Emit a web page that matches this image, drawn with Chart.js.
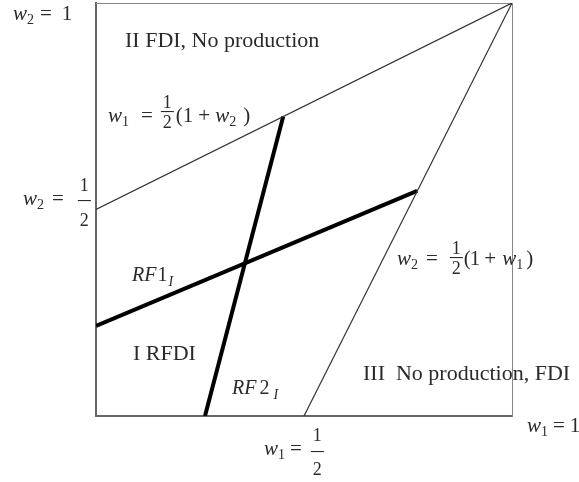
<!DOCTYPE html>
<html>
<head>
<meta charset="utf-8">
<script src="https://cdn.jsdelivr.net/npm/chart.js@4.4.1/dist/chart.umd.min.js"></script>
<style>
  body { margin: 0; background: #fff; }
  canvas { display: block; }
</style>
</head>
<body>
<canvas id="myChart" width="579" height="482"></canvas>
<script>
// boundary lines (w1, w2 in [0,1])
const upperX = [0, 1];
const upperY = [0.5, 1];
const lowerX = [0.5, 1];
const lowerY = [0, 1];
// reaction functions
const rf1X = [0, 0.772];
const rf1Y = [0.218, 0.545];
const rf2X = [0.262, 0.45];
const rf2Y = [0, 0.725];

const toPts = (xs, ys) => xs.map((x, i) => ({ x: x, y: ys[i] }));

const SERIF = '"Liberation Serif", "Times New Roman", serif';
const INK = '#2a2a2a';

// tiny math typesetter: parts are [kind, text]
// n = normal, i = italic, s = subscript, si = italic subscript, g = gap, f = fraction
function drawMath(ctx, x, y, parts, o) {
  const size = o.size || 21;
  const fs = o.frac || 18;
  const sub = Math.round(size * (o.sub || 0.65));
  let cx = x;
  ctx.textAlign = 'left';
  ctx.textBaseline = 'alphabetic';
  parts.forEach(function(p) {
    const kind = p[0];
    if (kind === 'g') { cx += p[1]; return; }
    if (kind === 'f') {
      ctx.font = fs + 'px ' + SERIF;
      const w = Math.max(ctx.measureText(p[1]).width, ctx.measureText(p[2]).width) + 4;
      ctx.fillRect(cx, o.bar, w, 1.1);
      ctx.textAlign = 'center';
      ctx.fillText(p[1], cx + w / 2, o.bar + o.num);
      ctx.fillText(p[2], cx + w / 2, o.bar + o.den);
      ctx.textAlign = 'left';
      cx += w;
      return;
    }
    let font = size + 'px ' + SERIF;
    let dy = 0;
    if (kind === 'i') font = 'italic ' + size + 'px ' + SERIF;
    if (kind === 's') { font = sub + 'px ' + SERIF; dy = size * 0.2; }
    if (kind === 'si') { font = 'italic ' + sub + 'px ' + SERIF; dy = size * 0.25; }
    ctx.font = font;
    ctx.fillText(p[1], cx, y + dy);
    cx += ctx.measureText(p[1]).width;
  });
}

const inlineFrac = { num: -3.5, den: 17 };

const labelsPlugin = {
  id: 'labels',
  afterDraw(chart) {
    const ctx = chart.ctx;
    ctx.save();
    ctx.fillStyle = INK;
    ctx.font = '22px ' + SERIF;
    ctx.fillText('II FDI, No production', 125, 47);
    ctx.fillText('I RFDI', 133, 360);
    ctx.fillText('III  No production, FDI', 363, 380);

    drawMath(ctx, 13, 20, [['i', 'w'], ['s', '2'], ['g', 6], ['n', '='], ['g', 10], ['n', '1']], {});
    drawMath(ctx, 527, 432, [['i', 'w'], ['s', '1'], ['g', 5], ['n', '='], ['g', 5], ['n', '1']], {});
    drawMath(ctx, 23, 205, [['i', 'w'], ['s', '2'], ['g', 8], ['n', '='], ['g', 14], ['f', '1', '2']],
      { bar: 200, num: -9, den: 26 });
    drawMath(ctx, 264, 455, [['i', 'w'], ['s', '1'], ['g', 5], ['n', '='], ['g', 9], ['f', '1', '2']],
      { bar: 451, num: -10, den: 24 });
    drawMath(ctx, 108, 122, [['i', 'w'], ['s', '1'], ['g', 12], ['n', '='], ['g', 8], ['f', '1', '2'], ['g', 2],
      ['n', '('], ['n', '1'], ['g', 5], ['n', '+'], ['g', 5], ['i', 'w'], ['s', '2'], ['g', 7], ['n', ')']],
      Object.assign({ bar: 111 }, inlineFrac));
    drawMath(ctx, 397, 265, [['i', 'w'], ['s', '2'], ['g', 8], ['n', '='], ['g', 12], ['f', '1', '2'], ['g', 1],
      ['n', '('], ['g', -1], ['n', '1'], ['g', 4], ['n', '+'], ['g', 6], ['i', 'w'], ['s', '1'], ['g', 3], ['n', ')']],
      Object.assign({ bar: 257 }, inlineFrac));
    drawMath(ctx, 132, 281, [['i', 'RF'], ['g', 1], ['n', '1'], ['g', 1], ['si', 'I']], { size: 20, sub: 0.72 });
    drawMath(ctx, 232, 394, [['i', 'RF'], ['g', 3], ['n', '2'], ['g', 4], ['si', 'I']], { size: 20, sub: 0.72 });
    ctx.restore();
  }
};

const thin = { borderColor: '#333', borderWidth: 1.2, pointRadius: 0, showLine: true, fill: false };
const thick = { borderColor: '#000', borderWidth: 4, pointRadius: 0, showLine: true, fill: false };

const hiddenTicks = { display: false };
const noGrid = { display: false, drawTicks: false, tickLength: 0 };

const ctx = document.getElementById('myChart');
const myChart = new Chart(ctx, {
  type: 'scatter',
  data: {
    datasets: [
      Object.assign({ data: toPts(upperX, upperY) }, thin),
      Object.assign({ data: toPts(lowerX, lowerY) }, thin),
      Object.assign({ data: toPts(rf1X, rf1Y) }, thick),
      Object.assign({ data: toPts(rf2X, rf2Y) }, thick)
    ]
  },
  options: {
    responsive: false,
    animation: false,
    layout: { padding: { left: 96, right: 67, top: 3, bottom: 66 } },
    plugins: { legend: { display: false }, tooltip: { enabled: false } },
    scales: {
      x: {
        type: 'linear', position: 'bottom', min: 0, max: 1,
        ticks: hiddenTicks, grid: noGrid,
        border: { display: true, color: '#666', width: 2 }
      },
      y: {
        type: 'linear', position: 'left', min: 0, max: 1,
        ticks: hiddenTicks, grid: noGrid,
        border: { display: true, color: '#666', width: 2 }
      },
      x2: {
        type: 'linear', position: 'top', min: 0, max: 1,
        ticks: hiddenTicks, grid: noGrid,
        border: { display: true, color: '#888', width: 1, dash: [2, 2] }
      },
      y2: {
        type: 'linear', position: 'right', min: 0, max: 1,
        ticks: hiddenTicks, grid: noGrid,
        border: { display: true, color: '#888', width: 1, dash: [2, 2] }
      }
    }
  },
  plugins: [labelsPlugin]
});
</script>
</body>
</html>
